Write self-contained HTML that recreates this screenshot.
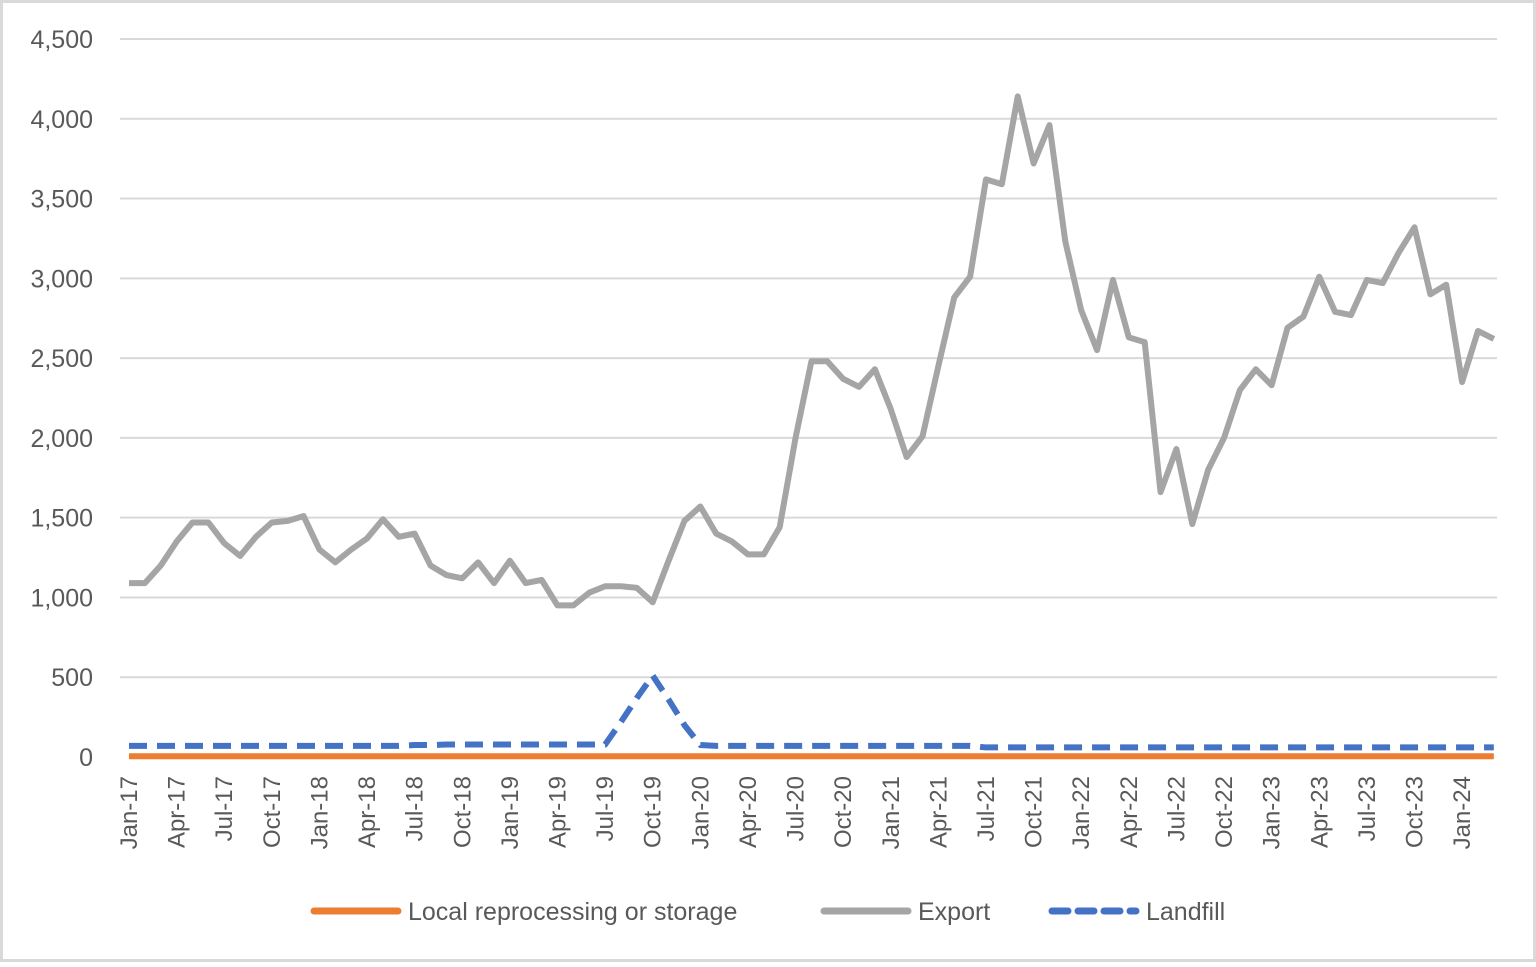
<!DOCTYPE html>
<html><head><meta charset="utf-8"><style>
body{margin:0;background:#fff;}
svg text{font-family:"Liberation Sans",sans-serif;fill:#595959;}
</style></head><body>
<svg id="chart" width="1536" height="962" xmlns="http://www.w3.org/2000/svg">
<rect x="1.5" y="1.5" width="1533" height="959" fill="#fff" stroke="#d9d9d9" stroke-width="3"/>
<g id="grid"></g><g id="yticks"></g><g id="xticks"></g><g id="series"></g>
<g>
<g><line x1="314" y1="911" x2="398" y2="911" stroke="#ed7d31" stroke-width="7" stroke-linecap="round"/><text x="408" y="920" font-size="25">Local reprocessing or storage</text></g>
<g><line x1="824" y1="911" x2="908" y2="911" stroke="#a5a5a5" stroke-width="7" stroke-linecap="round"/><text x="918" y="920" font-size="25">Export</text></g>
<g><line x1="1052" y1="911" x2="1136" y2="911" stroke="#4472c4" stroke-width="7" stroke-dasharray="16 10" stroke-linecap="round"/><text x="1146" y="920" font-size="25">Landfill</text></g>
</g>
</svg>
<script>
const yTicks=[0,500,1000,1500,2000,2500,3000,3500,4000,4500];
const yTickLabels=["0","500","1,000","1,500","2,000","2,500","3,000","3,500","4,000","4,500"];
const monthNames=["Jan","Feb","Mar","Apr","May","Jun","Jul","Aug","Sep","Oct","Nov","Dec"];
const exportVals=[1090,1090,1200,1350,1470,1470,1340,1260,1380,1470,1480,1510,1300,1220,1300,1370,1490,1380,1400,1200,1140,1120,1220,1090,1230,1090,1110,950,950,1030,1070,1070,1060,970,1230,1480,1570,1400,1350,1270,1270,1440,2000,2480,2480,2370,2320,2430,2180,1880,2010,2450,2880,3010,3620,3590,4140,3720,3960,3230,2800,2550,2990,2630,2600,1660,1930,1460,1800,2000,2300,2430,2330,2690,2760,3010,2790,2770,2990,2970,3160,3320,2900,2960,2350,2670,2620];
const landfillData=[70,70,70,70,70,70,70,70,70,70,70,70,70,70,70,70,70,70,75,75,78,78,78,78,78,78,78,78,78,78,78,220,370,510,360,200,75,70,70,70,70,70,70,70,70,70,70,70,70,70,70,70,70,70,60,60,60,60,60,60,60,60,60,60,60,60,60,60,60,60,60,60,60,60,60,60,60,60,60,60,60,60,60,60,60,60,60];
const localVals=[5,5,5,5,5,5,5,5,5,5,5,5,5,5,5,5,5,5,5,5,5,5,5,5,5,5,5,5,5,5,5,5,5,5,5,5,5,5,5,5,5,5,5,5,5,5,5,5,5,5,5,5,5,5,5,5,5,5,5,5,5,5,5,5,5,5,5,5,5,5,5,5,5,5,5,5,5,5,5,5,5,5,5,5,5,5,5];
const NS="http://www.w3.org/2000/svg";
const x0=129,dx=15.87,yZero=757,yTop=39,yMax=4500;
function xs(i){return x0+dx*i;}
function ys(v){return yZero-(yZero-yTop)*v/yMax;}
const grid=document.getElementById('grid'),yt=document.getElementById('yticks'),xt=document.getElementById('xticks'),ser=document.getElementById('series');
yTicks.forEach((v,k)=>{
 if(v>0){const l=document.createElementNS(NS,'line');
 l.setAttribute('x1',120);l.setAttribute('x2',1497);l.setAttribute('y1',ys(v));l.setAttribute('y2',ys(v));
 l.setAttribute('stroke','#d9d9d9');l.setAttribute('stroke-width','2');
 
 
 grid.appendChild(l);}
 const t=document.createElementNS(NS,'text');
 t.setAttribute('x',93);t.setAttribute('y',ys(v)+9);t.setAttribute('text-anchor','end');t.setAttribute('font-size','25');
 t.textContent=yTickLabels[k];
 
 
 yt.appendChild(t);
});
for(let i=0;i<exportVals.length;i+=3){
 const m=i%12,yr=17+Math.floor(i/12);
 const t=document.createElementNS(NS,'text');
 const x=xs(i)+8;
 t.setAttribute('transform','translate('+x+',776) rotate(-90)');
 t.setAttribute('text-anchor','end');t.setAttribute('font-size','24');
 t.textContent=monthNames[m]+'-'+yr;
 
 
 xt.appendChild(t);
}
function path(vals,color,dash,name){
 const p=document.createElementNS(NS,'polyline');
 p.setAttribute('points',vals.map((v,i)=>xs(i)+','+ys(v)).join(' '));
 p.setAttribute('fill','none');p.setAttribute('stroke',color);p.setAttribute('stroke-width','6');
 p.setAttribute('stroke-linejoin','round');
 if(dash){p.setAttribute('stroke-dasharray',dash);}
 
 
 ser.appendChild(p);
}
path(localVals,'#ed7d31',null,'local-series-line');
path(exportVals,'#a5a5a5',null,'export-series-line');
path(landfillData,'#4472c4','18 10','landfill-series-line');
</script>
</body></html>
